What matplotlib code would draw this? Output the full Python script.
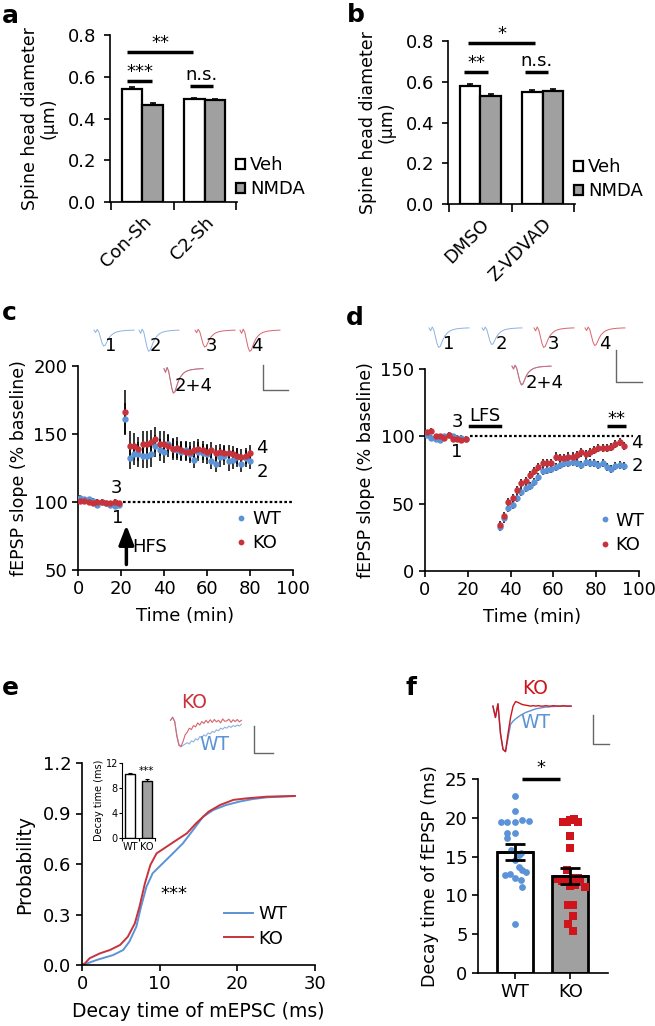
import matplotlib
matplotlib.use("Agg")
import matplotlib.pyplot as plt
import numpy as np
from matplotlib.lines import Line2D
from matplotlib.patches import Patch

plt.rcParams['font.family'] = ['DejaVu Sans']
plt.rcParams['font.size'] = 13
plt.rcParams['axes.linewidth'] = 1.2
plt.rcParams['xtick.major.width'] = 1.2
plt.rcParams['ytick.major.width'] = 1.2
plt.rcParams['xtick.minor.width'] = 1.2

BLUE = '#5b93d6'
RED = '#c8323a'
RED_F = '#d0141c'
BLUE_T = '#8db2e2'
RED_T = '#d8646c'
GRAY = '#a0a0a0'
TICK_FS = 13
VLAB_FS = 12.5

# --- a / b: spine head diameter ---
groups_a = ["Con-Sh", "C2-Sh"]
veh_a = [0.540, 0.492]
veh_a_err = [0.010, 0.005]
nmda_a = [0.465, 0.488]
nmda_a_err = [0.008, 0.006]

groups_b = ["DMSO", "Z-VDVAD"]
veh_b = [0.580, 0.551]
veh_b_err = [0.010, 0.010]
nmda_b = [0.532, 0.553]
nmda_b_err = [0.010, 0.009]

# --- c: LTP (HFS) ---
c_time_base = list(range(1, 20, 2))
c_time_post = list(range(22, 81, 2))
c_wt_base = [103, 102, 102, 101, 98, 100, 99, 98, 97, 98]
c_ko_base = [101, 101, 100, 99, 100, 100, 99, 99, 100, 99]
c_base_err = [2, 2, 2, 2, 2, 2, 2, 2, 2, 2]
c_wt_post = [161, 132, 135, 135, 134, 134, 135, 141, 138, 137, 143, 139, 138, 137, 138,
             135, 131, 137, 136, 135, 130, 128, 133, 134, 130, 131, 133, 128, 132, 130]
c_ko_post = [166, 141, 141, 139, 143, 143, 144, 146, 143, 143, 141, 139, 140, 138, 137,
             137, 138, 139, 138, 137, 138, 136, 137, 136, 136, 135, 134, 133, 134, 136]
c_wt_err = [12, 8, 8, 9, 9, 9, 9, 8, 8, 8, 7, 7, 7, 7, 7,
            6, 6, 7, 7, 7, 6, 6, 7, 7, 7, 7, 7, 6, 6, 6]
c_ko_err = [16, 11, 10, 9, 9, 9, 9, 9, 9, 9, 8, 8, 8, 7, 7,
            7, 7, 7, 7, 6, 6, 6, 6, 6, 6, 6, 6, 6, 6, 6]

# --- d: LTD (LFS) ---
d_time_base = list(range(1, 20, 2))
d_time_post = list(range(35, 94, 2))
d_wt_base = [101, 99, 98, 97, 100, 101, 100, 99, 99, 98]
d_ko_base = [103, 104, 100, 100, 99, 101, 98, 98, 97, 98]
d_base_err = [2, 2, 2, 2, 2, 2, 2, 2, 2, 2]
d_wt_post = [33, 39, 47, 49, 54, 59, 62, 63, 66, 70, 74, 75, 76, 77, 79,
             80, 80, 81, 80, 79, 81, 80, 80, 79, 80, 77, 76, 78, 79, 78]
d_ko_post = [34, 41, 51, 54, 60, 65, 67, 71, 74, 77, 80, 80, 80, 85, 84,
             84, 85, 85, 86, 88, 87, 88, 90, 91, 91, 91, 92, 94, 96, 93]
d_post_err = [3, 3, 3, 3, 3, 3, 3, 3, 3, 3, 3, 3, 3, 3, 3,
              3, 3, 3, 3, 3, 3, 3, 3, 3, 3, 3, 3, 3, 3, 3]

# --- e: mEPSC decay cumulative ---
e_wt_x = [0, 0.4, 1.9, 4.0, 5.3, 6.1, 7.0, 7.6, 8.3, 9.1, 10.4, 11.7, 13.0, 14.3, 15.6,
          16.9, 18.6, 20.3, 22.0, 23.8, 27.4]
e_wt_y = [0, 0.005, 0.03, 0.059, 0.089, 0.139, 0.228, 0.346, 0.465, 0.545, 0.604, 0.663,
          0.723, 0.802, 0.881, 0.921, 0.951, 0.971, 0.986, 0.996, 1.004]
e_ko_x = [0, 0.39, 0.98, 2.3, 3.6, 4.9, 5.9, 6.8, 7.4, 8.1, 8.8, 9.6, 10.9, 12.2, 13.5,
          14.7, 16.3, 17.8, 19.5, 21.2, 23.8, 27.4]
e_ko_y = [0, 0.01, 0.04, 0.069, 0.089, 0.119, 0.168, 0.247, 0.346, 0.485, 0.594, 0.663,
          0.703, 0.743, 0.782, 0.842, 0.911, 0.951, 0.981, 0.99, 1.0, 1.004]
e_inset_labels = ["WT", "KO"]
e_inset_mean = [10.2, 9.2]
e_inset_err = [0.15, 0.2]

# --- f: fEPSP decay ---
f_labels = ["WT", "KO"]
f_mean = [15.6, 12.5]
f_err = [1.0, 1.0]
f_wt_pts = [22.85, 20.9, 19.5, 19.45, 19.45, 19.7, 19.55, 18.1, 18.1, 17.35, 15.85, 15.2,
            14.6, 13.7, 13.3, 12.6, 12.8, 12.2, 13.0, 12.0, 11.1, 6.3, 15.5]
f_wt_jit = [0, 0, -0.26, -0.14, 0, 0.13, 0.26, -0.14, 0, -0.14, -0.07, 0.07,
            0, 0.07, 0.13, -0.19, -0.1, 0, 0.2, 0.1, 0.13, 0, 0.1]
f_ko_pts = [19.7, 19.9, 19.5, 19.4, 19.4, 17.6, 16.1, 13.3, 12.1, 12.0, 12.2,
            12.1, 11.05, 11.2, 11.3, 8.8, 8.7, 7.4, 6.3, 5.4, 11.8, 12.3]
f_ko_jit = [0, 0.06, -0.06, -0.13, 0.13, 0, 0, -0.06, -0.22, -0.09, 0.06,
            0.18, 0.26, 0, 0.09, -0.04, 0.05, 0.05, -0.04, 0.05, -0.15, 0.13]

# --- example traces (hand-read shapes) ---
fepsp_shape = [0.0, -0.15, 0.05, -0.1, -0.45, -0.8, -1.0, -0.95, -0.75, -0.55, -0.4, -0.3, -0.22,
               -0.16, -0.12, -0.09, -0.07, -0.05, -0.04, -0.03, -0.02, -0.015, -0.01, -0.005, 0.0, 0.0]
c_trace_amp = [0.75, 1.0, 0.8, 1.0]
d_trace_amp = [1.0, 0.85, 1.0, 0.9]
mepsc_ko = [0.0, 0.12, -0.05, -0.6, -0.95, -1.0, -0.8, -0.55, -0.45, -0.3, -0.35, -0.2, -0.25, -0.1,
            -0.18, -0.05, -0.12, 0.0, -0.1, 0.02, -0.08, 0.03, -0.06, 0.0, -0.1, 0.05, -0.04, -0.02,
            0.04, -0.08, 0.02, -0.05, 0.03, -0.06, 0.0]
mepsc_wt = [0.0, 0.1, -0.05, -0.55, -0.9, -1.0, -0.95, -0.9, -0.85, -0.9, -0.78, -0.82, -0.7, -0.75,
            -0.62, -0.66, -0.55, -0.6, -0.48, -0.52, -0.42, -0.46, -0.36, -0.4, -0.3, -0.34, -0.26,
            -0.3, -0.22, -0.27, -0.2, -0.24, -0.18, -0.22, -0.15]
f_trace_ko = [0.0, -0.25, 0.05, -0.6, -0.95, -1.0, -0.6, -0.25, 0.0, 0.1, 0.08, 0.05, 0.03, 0.02,
              0.01, 0.0, 0.01, 0.0, 0.01, 0.0, 0.0, 0.01, 0.0, 0.0, 0.01, 0.0, 0.0, 0.0, 0.01, 0.0, 0.0, 0.0]
f_trace_wt = [0.0, -0.25, 0.05, -0.6, -0.95, -1.0, -0.7, -0.4, -0.33, -0.28, -0.24, -0.2, -0.17,
              -0.14, -0.12, -0.1, -0.08, -0.06, -0.05, -0.04, -0.03, -0.02, -0.02, -0.01, -0.01,
              0.0, 0.0, 0.0, 0.0, 0.0, 0.0, 0.0]

W, H = 655, 1026
fig = plt.figure(figsize=(W / 100, H / 100), dpi=100)


def px_axes(left, top, width, height):
    return fig.add_axes([left / W, 1 - (top + height) / H, width / W, height / H])


def clean(ax):
    ax.spines['top'].set_visible(False)
    ax.spines['right'].set_visible(False)
    ax.tick_params(direction='out', length=4, labelsize=TICK_FS)


def sig(ax, x1, x2, y, text, dy, lw=2.5, fs=13):
    ax.plot([x1, x2], [y, y], color='black', lw=lw, clip_on=False, solid_capstyle='butt')
    ax.text((x1 + x2) / 2, y + dy, text, ha='center', va='bottom', fontsize=fs)


def spine_panel(ax, groups, veh, veh_err, nmda, nmda_err):
    x = np.arange(len(groups))
    w = 0.33
    ekw = dict(ecolor='black', capsize=2.5, elinewidth=1.2, capthick=1.2)
    ax.bar(x - w / 2, veh, w, yerr=[[0] * len(veh), veh_err], color='white',
           edgecolor='black', linewidth=1.6, error_kw=ekw)
    ax.bar(x + w / 2, nmda, w, yerr=[[0] * len(nmda), nmda_err], color=GRAY,
           edgecolor='black', linewidth=1.6, error_kw=ekw)
    clean(ax)
    ax.tick_params(axis='y', pad=6)
    ax.set_ylim(0, 0.8)
    ax.set_yticks([0, 0.2, 0.4, 0.6, 0.8])
    ax.set_yticklabels([f"{v:.1f}" for v in [0, 0.2, 0.4, 0.6, 0.8]])
    ax.set_xlim(-0.52, 1.52)
    ax.set_xticks(x)
    ax.set_xticklabels(groups, rotation=45, ha='right', rotation_mode='anchor')
    ax.tick_params(axis='x', which='major', length=0, pad=8)
    ax.set_xticks([-0.5, 0.5, 1.5], minor=True)
    ax.tick_params(axis='x', which='minor', length=6, direction='out')
    ax.set_ylabel("Spine head diameter\n(µm)", fontsize=VLAB_FS, linespacing=1.05, labelpad=7)
    handles = [Patch(facecolor='white', edgecolor='black', linewidth=1.6, label='Veh'),
               Patch(facecolor=GRAY, edgecolor='black', linewidth=1.6, label='NMDA')]
    ax.legend(handles=handles, frameon=False, loc='lower left', bbox_to_anchor=(0.96, 0.0),
              handlelength=0.5, handleheight=0.5, handletextpad=0.3, labelspacing=0.35,
              borderpad=0.2, borderaxespad=0, fontsize=13)


# ---------------- a ----------------
ax_a = px_axes(110, 35, 127, 167)
spine_panel(ax_a, groups_a, veh_a, veh_a_err, nmda_a, nmda_a_err)
sig(ax_a, -0.25, 0.82, 0.72, "**", 0.0)
sig(ax_a, -0.24, 0.16, 0.58, "***", 0.0)
sig(ax_a, 0.76, 1.14, 0.555, "n.s.", 0.008)

# ---------------- b ----------------
ax_b = px_axes(448, 41, 127, 163)
spine_panel(ax_b, groups_b, veh_b, veh_b_err, nmda_b, nmda_b_err)
sig(ax_b, -0.2, 0.88, 0.79, "*", 0.0)
sig(ax_b, -0.27, 0.13, 0.65, "**", 0.0)
sig(ax_b, 0.71, 1.09, 0.65, "n.s.", 0.008)


def time_course(ax, tb, tp, wt_b, ko_b, b_err, wt_p, ko_p, wt_err, ko_err):
    ekw = dict(fmt='o', ms=4.6, ecolor='black', elinewidth=1.1, capsize=2.2, capthick=1.1,
               markeredgewidth=0, zorder=3)
    ax.errorbar(tb, wt_b, yerr=b_err, color=BLUE, **ekw)
    ax.errorbar(tp, wt_p, yerr=wt_err, color=BLUE, **ekw)
    ax.errorbar(tb, ko_b, yerr=b_err, color=RED, **ekw)
    ax.errorbar(tp, ko_p, yerr=ko_err, color=RED, **ekw)
    clean(ax)
    ax.set_xlim(0, 100)
    ax.set_xticks([0, 20, 40, 60, 80, 100])
    ax.set_xlabel("Time (min)", fontsize=13, labelpad=6)
    ax.set_ylabel("fEPSP slope (% baseline)", fontsize=VLAB_FS, labelpad=4)
    handles = [Line2D([], [], ls='none', marker='o', ms=4.2, color=BLUE, mew=0, label='WT'),
               Line2D([], [], ls='none', marker='o', ms=4.2, color=RED, mew=0, label='KO')]
    return handles


def trace_axes(left, top, width, height, traces, ylim=(-1.08, 0.15), lw=0.7):
    tax = px_axes(left, top, width, height)
    for y, col in traces:
        tax.plot(y, color=col, lw=lw)
    tax.set_ylim(*ylim)
    tax.axis('off')
    return tax


def scale_bar(left, top, width, height):
    sax = px_axes(left, top, width, height)
    sax.plot([0, 0, 1], [1, 0, 0], color='#666666', lw=1.0, clip_on=False)
    sax.set_xlim(0, 1)
    sax.set_ylim(0, 1)
    sax.axis('off')


# ---------------- c ----------------
ax_c = px_axes(78, 366, 215, 204)
h = time_course(ax_c, c_time_base, c_time_post, c_wt_base, c_ko_base, c_base_err,
                c_wt_post, c_ko_post, c_wt_err, c_ko_err)
ax_c.set_ylim(50, 200)
ax_c.set_yticks([50, 100, 150, 200])
ax_c.plot([21, 100], [100, 100], ls=(0, (1.2, 1.0)), color='black', lw=1.6, zorder=1)
ax_c.text(18, 104, "3", ha='center', va='bottom', fontsize=13)
ax_c.text(18.5, 95, "1", ha='center', va='top', fontsize=13)
ax_c.text(83, 140, "4", ha='left', va='center', fontsize=13)
ax_c.text(83, 122, "2", ha='left', va='center', fontsize=13)
ax_c.annotate("", xy=(22.5, 85), xytext=(22.5, 52),
              arrowprops=dict(arrowstyle='-|>,head_width=0.35,head_length=0.9', color='black', lw=2.5))
ax_c.text(25, 67, "HFS", ha='left', va='center', fontsize=13)
ax_c.legend(handles=h, frameon=False, loc='upper left', bbox_to_anchor=(0.71, 0.33),
            handlelength=0.4, handletextpad=0.4, labelspacing=0.35, fontsize=13, borderaxespad=0)

for i, (lx, col) in enumerate([(92, BLUE_T), (137, BLUE_T), (193, RED_T), (238, RED_T)]):
    trace_axes(lx, 327, 44, 26, [(np.array(fepsp_shape) * c_trace_amp[i], col)])
    fig.text((lx + 13) / W, 1 - 355 / H, str(i + 1), fontsize=13, ha='left', va='bottom')
trace_axes(162, 365, 43, 30, [(np.array(fepsp_shape) * c_trace_amp[1], BLUE_T),
                              (np.array(fepsp_shape) * c_trace_amp[3], RED_T)])
fig.text(175 / W, 1 - 395 / H, "2+4", fontsize=13, ha='left', va='bottom')
scale_bar(263, 365, 25, 25)

# ---------------- d ----------------
ax_d = px_axes(425, 369, 214, 202)
h = time_course(ax_d, d_time_base, d_time_post, d_wt_base, d_ko_base, d_base_err,
                d_wt_post, d_ko_post, d_post_err, d_post_err)
ax_d.set_ylim(0, 150)
ax_d.set_yticks([0, 50, 100, 150])
ax_d.plot([21, 97], [100, 100], ls=(0, (1.2, 1.0)), color='black', lw=1.6, zorder=1)
ax_d.plot([21, 35], [107.5, 107.5], color='black', lw=2.5)
ax_d.text(28, 108.5, "LFS", ha='center', va='bottom', fontsize=13)
ax_d.text(15, 104, "3", ha='center', va='bottom', fontsize=13)
ax_d.text(15, 95, "1", ha='center', va='top', fontsize=13)
sig(ax_d, 85, 94, 107.5, "**", -1.0)
ax_d.text(96.5, 95, "4", ha='left', va='center', fontsize=13)
ax_d.text(96.5, 78, "2", ha='left', va='center', fontsize=13)
ax_d.legend(handles=h, frameon=False, loc='upper left', bbox_to_anchor=(0.79, 0.33),
            handlelength=0.4, handletextpad=0.4, labelspacing=0.35, fontsize=13, borderaxespad=0)

for i, (lx, col) in enumerate([(427, BLUE_T), (480, BLUE_T), (532, RED_T), (583, RED_T)]):
    trace_axes(lx, 325, 44, 24, [(np.array(fepsp_shape) * d_trace_amp[i], col)])
    fig.text((lx + 16) / W, 1 - 353 / H, str(i + 1), fontsize=13, ha='left', va='bottom')
trace_axes(510, 363, 43, 26, [(np.array(fepsp_shape) * d_trace_amp[1], BLUE_T),
                              (np.array(fepsp_shape) * d_trace_amp[3], RED_T)])
fig.text(526 / W, 1 - 392 / H, "2+4", fontsize=13, ha='left', va='bottom')
scale_bar(616, 350, 26, 32)

# ---------------- e ----------------
ax_e = px_axes(82, 763, 233, 202)
ax_e.plot(e_wt_x, e_wt_y, color=BLUE, lw=1.4)
ax_e.plot(e_ko_x, e_ko_y, color=RED, lw=1.4)
clean(ax_e)
ax_e.set_xlim(0, 30)
ax_e.set_ylim(0, 1.2)
ax_e.set_xticks([0, 10, 20, 30])
ax_e.set_yticks([0, 0.3, 0.6, 0.9, 1.2])
ax_e.set_yticklabels([f"{v:.1f}" for v in [0, 0.3, 0.6, 0.9, 1.2]])
ax_e.set_xlabel("Decay time of mEPSC (ms)", fontsize=13.5, labelpad=6)
ax_e.set_ylabel("Probability", fontsize=13.5, labelpad=6)
ax_e.text(11.8, 0.42, "***", ha='center', va='center', fontsize=13)
ax_e.legend(handles=[Line2D([], [], color=BLUE, lw=1.4, label='WT'),
                     Line2D([], [], color=RED, lw=1.4, label='KO')],
            frameon=False, loc='lower left', bbox_to_anchor=(0.58, 0.05), handlelength=1.6,
            handletextpad=0.3, labelspacing=0.35, fontsize=13, borderaxespad=0)

ax_ei = px_axes(122, 763, 33, 75)
ekw = dict(ecolor='black', capsize=1.5, elinewidth=0.8, capthick=0.8)
ax_ei.bar([0, 1], e_inset_mean, 0.6, yerr=[[0, 0], e_inset_err], color=['white', GRAY],
          edgecolor='black', linewidth=1.0, error_kw=ekw)
ax_ei.spines['top'].set_visible(False)
ax_ei.spines['right'].set_visible(False)
for s in ax_ei.spines.values():
    s.set_linewidth(0.8)
ax_ei.set_xlim(-0.5, 1.5)
ax_ei.set_ylim(0, 12)
ax_ei.set_yticks([0, 4, 8, 12])
ax_ei.set_xticks([0, 1])
ax_ei.set_xticklabels(e_inset_labels)
ax_ei.tick_params(axis='x', which='major', length=0, labelsize=7, pad=3)
ax_ei.tick_params(axis='y', length=2, width=0.8, labelsize=7, pad=1)
ax_ei.set_xticks([-0.5, 0.5, 1.5], minor=True)
ax_ei.tick_params(axis='x', which='minor', length=2, width=0.8)
ax_ei.set_ylabel("Decay time (ms)", fontsize=7, labelpad=1)
ax_ei.text(1, 9.9, "***", ha='center', va='bottom', fontsize=7.5)

trace_axes(167, 715, 78, 33, [(mepsc_wt, BLUE_T), (mepsc_ko, RED_T)], ylim=(-1.05, 0.2), lw=0.8)
fig.text(194 / W, 1 - 703 / H, "KO", color=RED, fontsize=13.5, ha='center', va='center')
fig.text(214 / W, 1 - 745 / H, "WT", color=BLUE, fontsize=13.5, ha='center', va='center')
scale_bar(254, 726, 19, 27)

# ---------------- f ----------------
ax_f = px_axes(478, 779, 130, 194)
ax_f.bar([0, 1], f_mean, 0.65, color=['white', GRAY], edgecolor='black', linewidth=2, zorder=1)
ax_f.scatter(np.array(f_wt_jit), f_wt_pts, s=24, color=BLUE, marker='o', zorder=2, linewidths=0)
ax_f.scatter(1 + np.array(f_ko_jit), f_ko_pts, s=26, color=RED_F, marker='s', zorder=2, linewidths=0)
ax_f.errorbar([0, 1], f_mean, yerr=f_err, fmt='none', ecolor='black', elinewidth=2,
              capsize=7, capthick=2, zorder=3)
ax_f.plot([-0.3, 0.3], [f_mean[0], f_mean[0]], color='black', lw=2, zorder=3)
ax_f.plot([0.7, 1.3], [f_mean[1], f_mean[1]], color='black', lw=2, zorder=3)
ax_f.spines['top'].set_visible(False)
ax_f.spines['right'].set_visible(False)
ax_f.tick_params(direction='out', length=4, labelsize=TICK_FS)
ax_f.set_xlim(-0.67, 1.68)
ax_f.set_ylim(0, 25)
ax_f.set_yticks([0, 5, 10, 15, 20, 25])
ax_f.set_xticks([0, 1])
ax_f.set_xticklabels(f_labels)
ax_f.set_ylabel("Decay time of fEPSP (ms)", fontsize=VLAB_FS, labelpad=4)
sig(ax_f, 0.13, 0.81, 25.0, "*", 0.3, lw=2.5)

trace_axes(489, 697, 86, 56, [(f_trace_wt, BLUE), (f_trace_ko, RED_F)], ylim=(-1.03, 0.2), lw=1.0)
fig.text(535 / W, 1 - 688 / H, "KO", color=RED_F, fontsize=13.5, ha='center', va='center')
fig.text(535 / W, 1 - 723 / H, "WT", color=BLUE, fontsize=13.5, ha='center', va='center')
scale_bar(593, 715, 16, 29)

# panel letters
for lbl, x, y in [("a", 2, 16), ("b", 347, 15), ("c", 2, 313), ("d", 346, 318),
                  ("e", 2, 688), ("f", 406, 688)]:
    fig.text(x / W, 1 - y / H, lbl, fontsize=18, fontweight='bold', ha='left', va='center')

fig.savefig("out.png", dpi=100)
